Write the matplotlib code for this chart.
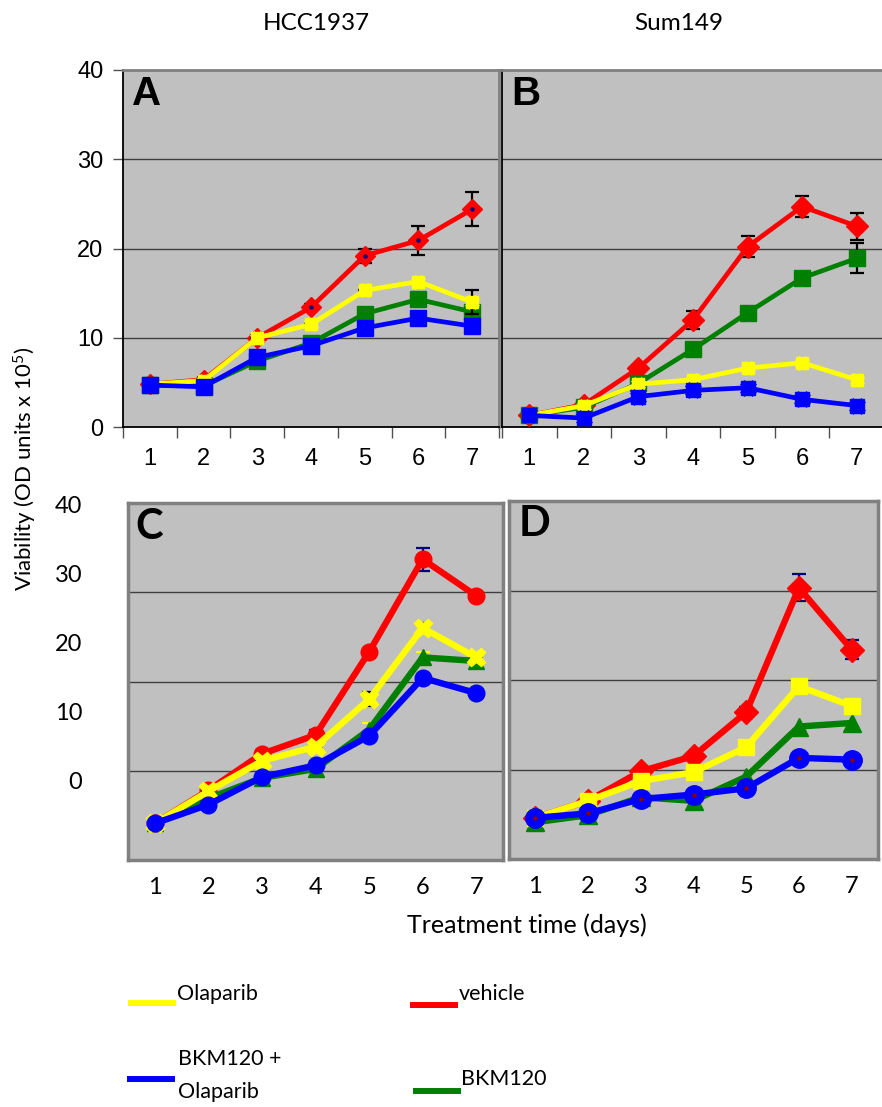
import numpy as np
import matplotlib.pyplot as plt
from matplotlib.lines import Line2D

plt.rcParams['mathtext.fontset'] = 'custom'
plt.rcParams['mathtext.rm'] = 'Lato'

# ------------------------------------------------------------
# data (OD units x 10^5)
# ------------------------------------------------------------
days = [1, 2, 3, 4, 5, 6, 7]
day_labels = ["1", "2", "3", "4", "5", "6", "7"]

# A: HCC1937
a_vehicle = [4.8, 5.3, 10.0, 13.4, 19.2, 20.9, 24.4]
a_vehicle_err = [0.3, 0.3, 0.3, 0.4, 0.8, 1.6, 1.9]
a_olaparib = [4.8, 5.2, 10.0, 11.5, 15.3, 16.3, 14.0]
a_olaparib_err = [0.0, 0.0, 0.0, 0.0, 0.0, 0.0, 1.3]
a_bkm = [4.7, 4.6, 7.4, 9.4, 12.7, 14.3, 12.9]
a_combo = [4.7, 4.5, 7.8, 9.1, 11.1, 12.2, 11.3]

# B: Sum149
b_vehicle = [1.3, 2.5, 6.6, 12.0, 20.2, 24.7, 22.5]
b_vehicle_err = [0.2, 0.2, 0.4, 1.0, 1.2, 1.2, 1.5]
b_olaparib = [1.3, 2.4, 4.8, 5.3, 6.6, 7.2, 5.3]
b_bkm = [1.3, 2.2, 4.9, 8.7, 12.8, 16.7, 18.9]
b_bkm_err = [0.0, 0.0, 0.0, 0.0, 0.0, 0.0, 1.7]
b_combo = [1.3, 1.0, 3.4, 4.1, 4.4, 3.1, 2.4]

# C: HCC1937 (second experiment)
c_vehicle = [4.1, 7.8, 11.9, 14.0, 23.3, 33.7, 29.6]
c_vehicle_err = [0.2, 0.3, 0.4, 0.6, 0.5, 1.3, 0.4]
c_olaparib = [4.1, 7.7, 11.1, 12.7, 18.0, 26.0, 22.7]
c_olaparib_err = [0.0, 0.0, 0.0, 0.0, 0.8, 0.5, 0.0]
c_bkm = [4.1, 6.9, 9.2, 10.2, 14.6, 22.7, 22.3]
c_bkm_err = [0.0, 0.0, 0.0, 0.0, 0.8, 0.6, 0.0]
c_combo = [4.1, 6.2, 9.3, 10.6, 13.9, 20.4, 18.7]

# D: Sum149 (second experiment)
d_vehicle = [4.6, 6.5, 9.8, 11.5, 16.4, 30.3, 23.4]
d_vehicle_err = [0.2, 0.2, 0.3, 0.3, 0.6, 1.5, 1.1]
d_olaparib = [4.6, 6.5, 8.7, 9.7, 12.5, 19.3, 17.1]
d_bkm = [4.1, 4.9, 6.9, 6.5, 9.2, 14.8, 15.2]
d_combo = [4.6, 5.1, 6.7, 7.2, 7.9, 11.3, 11.1]

# labels printed beside panels C and D (they do not sit on the grid lines)
cd_ytick_values = [0, 10, 20, 30, 40]
ab_ytick_values = [0, 10, 20, 30, 40]

col_vehicle = "#FF0000"
col_olaparib = "#FFFF00"
col_bkm = "#008000"
col_combo = "#0000FF"
navy = "#000080"
bg = "#C0C0C0"
frame_gray = "#808080"
grid_col = "#3F3F3F"

W, H = 882, 1107
fig = plt.figure(figsize=(W / 100, H / 100), dpi=100)


def px_axes(left, top, right, bottom):
    return fig.add_axes([left / W, 1 - bottom / H, (right - left) / W, (bottom - top) / H])


def series(ax, y, color, marker, ms, lw, z, err=None, ecolor="black", overlay=None, dot=None):
    if err is not None:
        ax.errorbar(days, y, yerr=err, fmt="none", ecolor=ecolor, elinewidth=1.6,
                    capsize=5, capthick=1.6, zorder=z - 0.5)
    ax.plot(days, y, color=color, lw=lw, marker=marker, ms=ms, mfc=color, mec=color,
            mew=1, zorder=z, solid_joinstyle="round")
    if overlay is not None:
        ax.plot(days, y, ls="none", marker=overlay, ms=ms * 1.1, mfc=color, mec=color,
                mew=0.5, zorder=z)
    if dot is not None:
        ax.plot(days, y, ls="none", marker="o", ms=2.2, mfc=dot, mec=dot, zorder=z + 0.1)


def style_common(ax):
    ax.set_facecolor(bg)
    ax.set_xlim(0.5, 7.5)
    ax.set_ylim(0, 40)
    for v in [10, 20, 30]:
        ax.axhline(v, color=grid_col, lw=1.0, zorder=1)


# ---------------- A ----------------
axA = px_axes(123, 70, 499, 427)
style_common(axA)
series(axA, a_vehicle, col_vehicle, "D", 10, 3.4, 3, err=a_vehicle_err, dot=navy)
series(axA, a_bkm, col_bkm, "s", 11, 3.4, 4)
series(axA, a_olaparib, col_olaparib, "s", 9, 3.4, 5, err=a_olaparib_err, overlay="X")
series(axA, a_combo, col_combo, "s", 12, 3.4, 6)

# ---------------- B ----------------
axB = px_axes(502, 70, 884, 427)
style_common(axB)
series(axB, b_vehicle, col_vehicle, "D", 11, 3.4, 3, err=b_vehicle_err)
series(axB, b_bkm, col_bkm, "s", 12, 3.4, 4, err=b_bkm_err)
series(axB, b_olaparib, col_olaparib, "s", 9, 3.4, 5, overlay="X")
series(axB, b_combo, col_combo, "s", 10.5, 3.4, 6, overlay="X")

for ax, show_y in [(axA, True), (axB, False)]:
    ax.set_xticks(days)
    ax.set_xticklabels(day_labels)
    ax.set_xticks(np.arange(0.5, 8.0, 1.0), minor=True)
    ax.tick_params(axis="x", which="major", length=0, pad=15, labelsize=17)
    ax.tick_params(axis="x", which="minor", length=8, width=1, color="#505050", direction="out")
    ax.set_yticks(ab_ytick_values)
    if show_y:
        ax.set_yticklabels([str(v) for v in ab_ytick_values])
        ax.tick_params(axis="y", length=7, width=1, color="#505050", pad=7, labelsize=17)
    else:
        ax.set_yticklabels([])
        ax.tick_params(axis="y", length=0)
    for lab in ax.get_xticklabels() + ax.get_yticklabels():
        lab.set_fontfamily("Liberation Sans")
    ax.spines["left"].set_color("black")
    ax.spines["left"].set_linewidth(1.3)
    ax.spines["bottom"].set_color("black")
    ax.spines["bottom"].set_linewidth(1.3)
    ax.spines["top"].set_color(frame_gray)
    ax.spines["top"].set_linewidth(2)
    ax.spines["right"].set_color(frame_gray)
    ax.spines["right"].set_linewidth(2)

axA.text(0.025, 0.985, "A", transform=axA.transAxes, ha="left", va="top",
         fontfamily="Liberation Sans", fontweight="bold", fontsize=29)
axB.text(0.025, 0.985, "B", transform=axB.transAxes, ha="left", va="top",
         fontfamily="Liberation Sans", fontweight="bold", fontsize=29)

# ---------------- C ----------------
axC = px_axes(128, 503, 503, 860)
style_common(axC)
series(axC, c_vehicle, col_vehicle, "o", 12, 4.6, 3, err=c_vehicle_err, ecolor=navy)
series(axC, c_bkm, col_bkm, "^", 11, 4.6, 4, err=c_bkm_err, ecolor=col_olaparib)
series(axC, c_olaparib, col_olaparib, "X", 13, 4.6, 5, err=c_olaparib_err, ecolor="black")
series(axC, c_combo, col_combo, "o", 12, 4.6, 6)

# ---------------- D ----------------
axD = px_axes(509, 501, 878, 859)
style_common(axD)
series(axD, d_vehicle, col_vehicle, "D", 12, 4.6, 3, err=d_vehicle_err, ecolor=navy)
series(axD, d_bkm, col_bkm, "^", 13, 4.6, 4)
series(axD, d_olaparib, col_olaparib, "s", 11, 4.6, 5)
series(axD, d_combo, col_combo, "o", 14, 4.6, 6, dot="#8B0000")

for ax in (axC, axD):
    ax.set_xticks(days)
    ax.set_xticklabels(day_labels, fontfamily="Lato", fontsize=17)
    ax.tick_params(axis="x", length=0, pad=12)
    ax.set_yticks([])
    for s in ax.spines.values():
        s.set_color(frame_gray)
        s.set_linewidth(2.5)

axC.text(0.02, 0.985, "C", transform=axC.transAxes, ha="left", va="top",
         fontfamily="Lato", fontweight="bold", fontsize=30)
axD.text(0.025, 0.99, "D", transform=axD.transAxes, ha="left", va="top",
         fontfamily="Lato", fontweight="bold", fontsize=30)

# y labels of C sit on their own scale, as in the source figure
axC_lab = axC.twinx()
axC_lab.yaxis.tick_left()
axC_lab.set_ylim(-11.55, 40.2)
axC_lab.set_yticks(cd_ytick_values)
axC_lab.set_yticklabels([str(v) for v in cd_ytick_values], fontfamily="Lato", fontsize=17)
axC_lab.tick_params(axis="y", length=0, pad=33)
for s in axC_lab.spines.values():
    s.set_visible(False)

# ---------------- overlay: titles, axis labels, legend ----------------
ov = fig.add_axes([0, 0, 1, 1], zorder=-1)
ov.set_xlim(0, W)
ov.set_ylim(H, 0)
ov.set_axis_off()

ov.text(316, 24, "HCC1937", ha="center", va="center", fontfamily="Lato", fontsize=17.5)
ov.text(679, 24, "Sum149", ha="center", va="center", fontfamily="Lato", fontsize=17.5)
ov.text(527, 925, "Treatment time (days)", ha="center", va="center", fontfamily="Lato", fontsize=18)
ov.text(25, 469, r"Viability (OD units x 10$\mathregular{^{5}}$)", ha="center", va="center",
        rotation=90, fontfamily="Lato", fontsize=16)

legend_items = [
    ("Olaparib", col_olaparib, (128, 176, 1003), (177, 1000)),
    ("vehicle", col_vehicle, (410, 458, 1005), (459, 1000)),
    ("BKM120 +\nOlaparib", col_combo, (127, 175, 1079), (178, 1065)),
    ("BKM120", col_bkm, (413, 461, 1091), (461, 1085)),
]
for label, color, (x0, x1, yl), (xt, yt) in legend_items:
    ov.add_line(Line2D([x0, x1], [yl, yl], color=color, lw=4.3, solid_capstyle="butt"))
    if "\n" in label:
        first, second = label.split("\n")
        ov.text(xt, yt, first, ha="left", va="baseline", fontfamily="Lato", fontsize=15.5)
        ov.text(xt, yt + 33, second, ha="left", va="baseline", fontfamily="Lato", fontsize=15.5)
    else:
        ov.text(xt, yt, label, ha="left", va="baseline", fontfamily="Lato", fontsize=15.5)

fig.savefig("out.png", dpi=100)
